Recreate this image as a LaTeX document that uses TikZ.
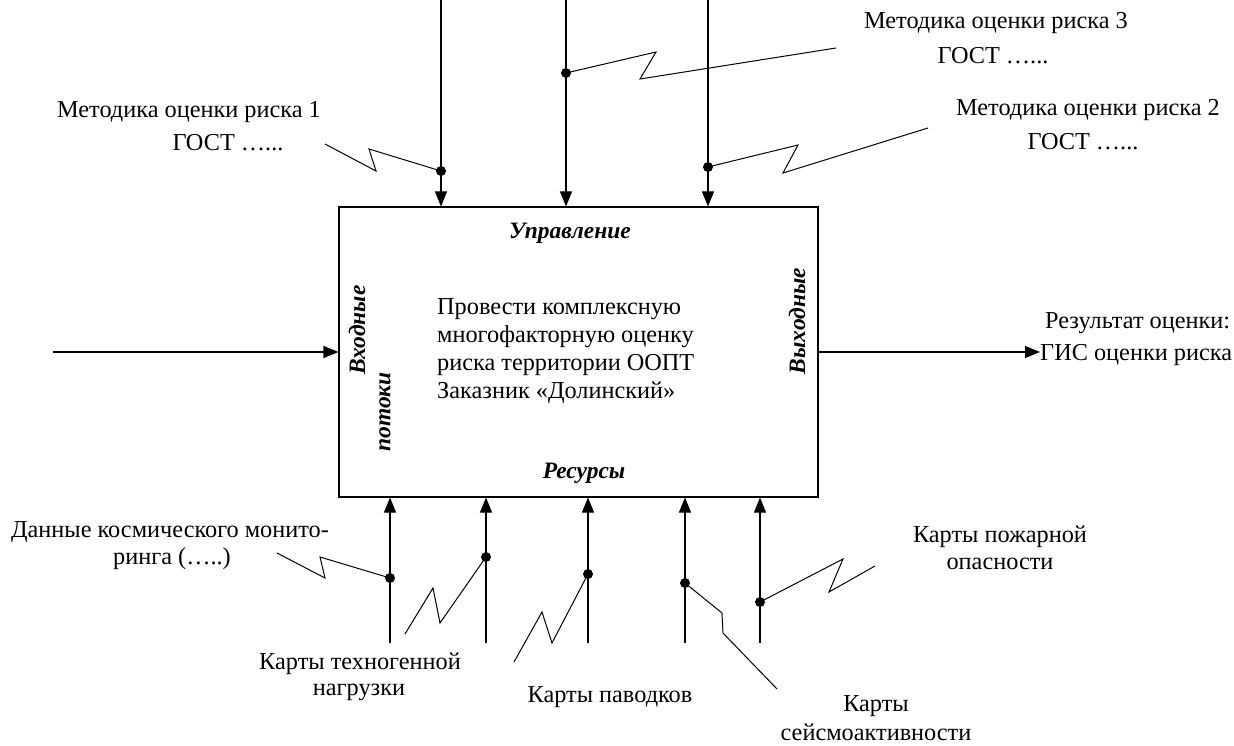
\documentclass[tikz,border=0pt]{standalone}
\usepackage{fontspec}
\setmainfont{Liberation Serif}
\usetikzlibrary{arrows.meta}
\tikzset{
  arr/.style={line width=1.1pt,-{Triangle[length=15pt,width=12pt]}},
  zig/.style={line width=1pt},
  dot/.style={circle,fill=black,inner sep=0pt,minimum size=10pt},
  lbl/.style={inner sep=0pt,font=\fontsize{24.3}{28}\selectfont},
  blbl/.style={inner sep=0pt,font=\fontsize{23.5}{27}\selectfont\bfseries\itshape},
}
\begin{document}
\begin{tikzpicture}[x=1pt,y=-1pt]
\useasboundingbox (0,0) rectangle (1234,746);
% main box
\node[draw,line width=1.1pt,minimum width=479pt,minimum height=290pt,inner sep=0pt] (box) at (578.5,352) {};
\node[lbl,align=left,anchor=north west] (main) at (437,298) {Провести комплексную\\многофакторную оценку\\риска территории ООПТ\\Заказник «Долинский»};
\node[blbl] (upr) at (570,233) {Управление};
\node[blbl] (res) at (584,473) {Ресурсы};
\node[blbl,rotate=90] (vh1) at (357,330) {Входные};
\node[blbl,rotate=90] (vh2) at (385,412) {потоки};
\node[blbl,rotate=90] (vyh) at (797,321) {Выходные};

% input / output
\coordinate (inS) at (53,352);
\draw[arr] (inS) -- (inS -| box.west);
\coordinate (outE) at (1040,352);
\draw[arr] (outE -| box.east) -- (outE);
\node[lbl,anchor=west] (r1) at (1045,323) {Результат оценки:};
\node[lbl,anchor=west] (r2) at (1040,355) {ГИС оценки риска};

% control arrows
\coordinate (t1) at (441,0);
\coordinate (t2) at (566,0);
\coordinate (t3) at (708,0);
\draw[arr] (t1) -- (t1 |- box.north);
\draw[arr] (t2) -- (t2 |- box.north);
\draw[arr] (t3) -- (t3 |- box.north);
\node[dot] (d1) at (441,171) {};
\node[dot] (d2) at (566,73) {};
\node[dot] (d3) at (708,167) {};
\coordinate (z1) at (325,144);
\coordinate (z2) at (836,48);
\coordinate (z3) at (928,128);
\draw[zig] (z1) -- (376,171) -- (369,149) -- (d1.center);
\draw[zig] (d2.center) -- (656,52) -- (640,79) -- (z2);
\draw[zig] (d3.center) -- (798,145) -- (783,173) -- (z3);
\node[lbl] (m1a) at (189,112) {Методика оценки риска 1};
\node[lbl] (m1b) at (228,143) {ГОСТ …...};
\node[lbl] (m3a) at (996,23) {Методика оценки риска 3};
\node[lbl] (m3b) at (993,56) {ГОСТ …...};
\node[lbl] (m2a) at (1088,110) {Методика оценки риска 2};
\node[lbl] (m2b) at (1083,142) {ГОСТ …...};

% mechanism arrows
\coordinate (b1) at (390,643);
\coordinate (b2) at (486,643);
\coordinate (b3) at (588,643);
\coordinate (b4) at (685,643);
\coordinate (b5) at (760,643);
\foreach \b in {b1,b2,b3,b4,b5} \draw[arr] (\b) -- (\b |- box.south);
\node[dot] (e1) at (390,578) {};
\node[dot] (e2) at (486,557) {};
\node[dot] (e3) at (588,574) {};
\node[dot] (e4) at (685,583) {};
\node[dot] (e5) at (760,602) {};
\coordinate (y1) at (277,553);
\coordinate (y2) at (405,634);
\coordinate (y3) at (514,662);
\coordinate (y4) at (777,689);
\coordinate (y5) at (875,566);
\draw[zig] (y1) -- (325,578) -- (320,557) -- (e1.center);
\draw[zig] (y2) -- (433,588) -- (440,623) -- (e2.center);
\draw[zig] (y3) -- (542,612) -- (552,643) -- (e3.center);
\draw[zig] (e4.center) -- (722,613) -- (723,633) -- (y4);
\draw[zig] (e5.center) -- (843,559) -- (829,592) -- (y5);

\node[lbl] (k1a) at (170,532) {Данные космического монито-};
\node[lbl] (k1b) at (172,559) {ринга (…..)};
\node[lbl] (k2a) at (360,664) {Карты техногенной};
\node[lbl] (k2b) at (359,692) {нагрузки};
\node[lbl] (k3) at (610,697) {Карты паводков};
\node[lbl] (k4a) at (876,706) {Карты};
\node[lbl] (k4b) at (876,732) {сейсмоактивности};
\node[lbl] (k5a) at (1000,537) {Карты пожарной};
\node[lbl] (k5b) at (1000,564) {опасности};
\end{tikzpicture}
\end{document}
